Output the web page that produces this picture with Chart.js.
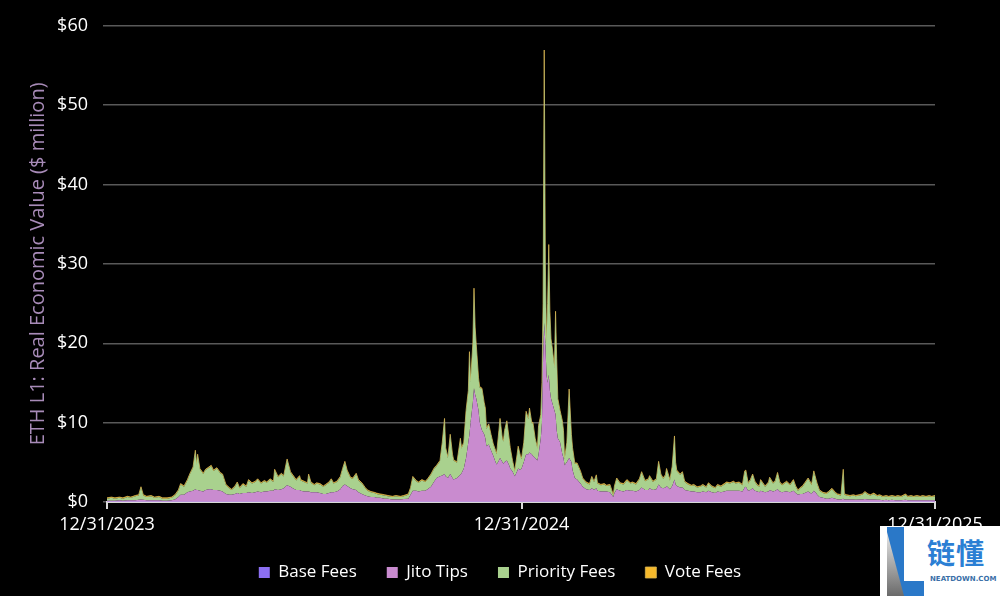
<!DOCTYPE html>
<html>
<head>
<meta charset="utf-8">
<script src="https://cdn.jsdelivr.net/npm/chart.js@4.4.1/dist/chart.umd.min.js"></script>
<style>
  body { margin: 0; background: #000; }
  #wrap { position: relative; width: 1000px; height: 596px; background: #000; }
  #mark { position: absolute; left: 880px; top: 526px; width: 120px; height: 70px; background: #fff; overflow: hidden; }
  #mark .bar { position: absolute; left: 7px; top: 1px; width: 17px; height: 69px; background: #2a78c8; }
  #mark .shade { position: absolute; left: 7px; top: 6px; width: 17px; height: 64px; background: linear-gradient(#e8e8e8, #6a6a6a); clip-path: polygon(0 0, 100% 100%, 0 100%); }
  #mark .foot { position: absolute; left: 24px; top: 55px; width: 20px; height: 15px; background: #2a78c8; }
  #mark .cn { position: absolute; left: 47px; top: 6px; font: bold 28px "Noto Sans CJK SC", sans-serif; color: #2b7fd4; letter-spacing: 1px; }
  #mark .en { position: absolute; left: 50px; top: 49px; font: bold 7px "DejaVu Sans", sans-serif; color: #3a6fa8; letter-spacing: 0px; }
</style>
</head>
<body>
<div id="wrap">
  <canvas id="feeChart" width="1000" height="596"></canvas>
  <div id="mark">
    <div class="bar"></div>
    <div class="shade"></div>
    <div class="foot"></div>
    <div class="cn">链懂</div>
    <div class="en">NEATDOWN.COM</div>
  </div>
</div>
<script>
// day offset from 12/31/2023
const days = [
  0,4,7,11,14,18,21,25,28,30,32,35,39,42,46,49,53,57,60,63,
  65,68,71,73,76,78,79,80,82,85,87,90,92,94,97,100,102,105,108,110,
  113,115,117,120,123,125,128,131,133,136,139,141,144,147,148,151,154,156,159,162,
  164,167,170,171,174,177,178,180,183,185,188,191,193,196,198,200,203,206,208,210,
  212,215,217,220,222,225,228,230,233,236,238,241,245,248,252,255,259,262,266,268,
  270,273,275,278,281,283,286,289,291,294,296,298,299,301,303,305,306,309,312,313,
  315,317,319,320,321,323,324,325,326,328,329,331,333,334,335,337,339,341,343,344,
  346,347,349,350,351,353,355,356,358,360,362,363,365,366,368,370,372,373,375,376,
  378,380,381,383,384,385,386,387,388,389,390,391,392,393,395,396,397,398,400,402,
  403,404,406,408,410,411,413,415,418,420,423,426,428,430,432,433,436,439,441,444,
  447,448,450,453,456,459,462,464,467,470,472,475,478,479,482,485,487,489,491,493,
  494,497,499,501,502,503,506,508,510,513,516,518,521,524,526,529,531,534,537,539,
  542,545,547,550,553,555,558,561,563,564,566,568,570,572,574,576,577,579,581,584,
  585,588,590,592,594,596,599,600,603,606,608,610,612,614,616,619,621,622,623,624,
  626,627,629,632,635,637,640,643,645,648,650,651,653,656,659,661,664,667,669,672,
  674,677,680,682,685,688,690,693,696,698,701,705,707,710,712,715,718,720,723,726,
  728,731
];

// $ million per day
const baseFees = [
  .02,.02,.02,.02,.02,.02,.02,.02,.02,.02,.02,.02,.02,.02,.02,.02,.02,.02,.02,.02,
  .02,.02,.02,.02,.02,.02,.02,.02,.02,.02,.02,.02,.02,.02,.02,.02,.02,.02,.02,.02,
  .02,.02,.02,.02,.02,.02,.02,.02,.02,.02,.02,.02,.02,.02,.02,.02,.02,.02,.02,.02,
  .02,.02,.02,.02,.02,.02,.02,.02,.02,.02,.02,.02,.02,.02,.02,.02,.02,.02,.02,.02,
  .02,.02,.02,.02,.02,.02,.02,.02,.02,.02,.02,.02,.02,.02,.02,.02,.02,.02,.02,.02,
  .02,.02,.02,.02,.02,.02,.02,.03,.03,.03,.03,.03,.03,.03,.03,.03,.03,.03,.03,.03,
  .03,.03,.04,.04,.04,.04,.04,.04,.04,.04,.04,.04,.04,.04,.03,.03,.03,.03,.03,.03,
  .03,.03,.03,.03,.03,.03,.03,.03,.03,.03,.03,.03,.03,.03,.03,.03,.03,.03,.03,.03,
  .03,.03,.03,.03,.03,.04,.05,.04,.04,.04,.04,.04,.04,.04,.03,.03,.03,.03,.03,.03,
  .03,.03,.03,.03,.03,.03,.02,.02,.02,.02,.02,.02,.02,.02,.02,.02,.02,.02,.02,.02,
  .02,.02,.02,.02,.02,.02,.02,.02,.02,.02,.02,.02,.02,.02,.02,.02,.02,.02,.02,.02,
  .02,.02,.02,.02,.02,.02,.02,.02,.02,.02,.02,.02,.02,.02,.02,.02,.02,.02,.02,.02,
  .02,.02,.02,.02,.02,.02,.02,.02,.02,.02,.02,.02,.02,.02,.02,.02,.02,.02,.02,.02,
  .02,.02,.02,.02,.02,.02,.02,.02,.02,.02,.02,.02,.02,.02,.02,.02,.02,.02,.02,.02,
  .02,.02,.02,.02,.02,.02,.02,.02,.02,.02,.02,.02,.02,.02,.02,.02,.02,.02,.02,.02,
  .02,.02,.02,.02,.02,.02,.02,.02,.02,.02,.02,.02,.02,.02,.02,.02,.02,.02,.02,.02,
  .02,.02
];

const jitoTips = [
  .15,.15,.15,.2,.15,.2,.2,.2,.25,.3,.25,.2,.2,.2,.2,.15,.15,.2,.3,.6,
  .9,.9,1.2,1.3,1.4,1.6,1.5,1.5,1.4,1.3,1.5,1.6,1.6,1.5,1.5,1.4,1.3,1.0,.9,.9,
  1.0,1.1,1.0,1.1,1.1,1.2,1.1,1.2,1.3,1.2,1.3,1.3,1.4,1.4,1.6,1.5,1.6,1.7,2.1,1.9,
  1.7,1.5,1.5,1.4,1.3,1.3,1.3,1.2,1.2,1.2,1.1,1.0,1.0,1.1,1.2,1.2,1.3,1.6,2.0,2.2,
  2.0,1.7,1.6,1.5,1.2,1.0,.8,.7,.6,.6,.5,.5,.4,.4,.3,.3,.3,.35,.4,.9,
  1.4,1.4,1.3,1.4,1.4,1.6,1.9,2.6,3.0,3.2,3.3,3.5,3.2,3.0,3.5,3.0,2.8,3.0,3.4,3.6,
  4.2,5.5,7.5,8.5,10.0,12.5,14.3,13.5,13.0,11.5,10.0,9.0,8.5,8.0,7.0,7.2,6.5,5.8,5.0,4.7,
  5.2,5.5,5.0,4.8,5.0,5.2,4.6,4.2,3.8,3.2,3.8,4.2,4.0,4.2,5.0,6.0,6.0,6.2,6.0,5.8,
  5.5,5.2,6.0,8.0,10.0,18.0,22.5,20.0,16.0,15.0,16.0,14.0,13.0,12.5,11.5,11.0,9.0,8.0,7.5,6.0,
  5.5,4.6,5.0,5.5,5.0,4.0,3.0,2.8,2.3,1.9,1.6,1.5,1.7,1.5,1.7,1.4,1.3,1.3,1.3,1.2,
  .6,1.1,1.6,1.4,1.3,1.5,1.4,1.4,1.3,1.5,1.8,1.5,1.5,1.7,1.5,1.6,2.2,1.8,1.7,1.8,
  2.0,1.6,2.0,2.8,2.2,2.0,1.8,1.8,1.5,1.4,1.3,1.3,1.2,1.2,1.3,1.2,1.4,1.2,1.1,1.3,
  1.2,1.3,1.4,1.4,1.4,1.4,1.4,1.3,1.8,1.9,1.4,1.5,1.7,1.4,1.3,1.2,1.4,1.3,1.2,1.3,
  1.5,1.3,1.4,1.6,1.3,1.2,1.3,1.3,1.2,1.4,1.1,.9,1.0,1.0,1.1,1.3,1.1,1.0,1.2,1.4,
  1.1,.9,.6,.5,.4,.4,.5,.4,.3,.3,.4,.3,.3,.3,.3,.25,.3,.3,.35,.3,
  .3,.3,.25,.25,.2,.25,.2,.25,.2,.2,.2,.25,.2,.2,.2,.2,.2,.2,.2,.2,
  .2,.2
];

const priorityFees = [
  .25,.35,.25,.3,.25,.4,.3,.5,.55,1.5,.55,.4,.5,.3,.4,.25,.25,.3,.5,.8,
  1.3,1.0,1.5,2.1,2.9,4.8,3.2,4.4,2.7,2.2,2.5,2.7,2.9,2.4,2.7,2.2,2.1,1.1,.8,.6,
  .9,1.3,.7,1.1,.8,1.5,1.2,1.3,1.5,1.1,1.3,1.1,1.4,1.1,2.4,1.6,1.9,1.5,3.2,1.8,
  1.6,1.2,1.7,1.3,1.2,1.0,2.1,1.2,.9,1.1,1.1,.9,1.1,1.3,1.6,1.1,1.2,1.5,2.1,2.8,
  1.9,1.3,1.3,2.0,1.5,1.3,.9,.7,.6,.5,.5,.4,.4,.3,.3,.4,.3,.35,.5,.8,
  1.7,1.2,1.1,1.3,1.1,1.2,1.5,1.6,1.5,1.9,4.1,6.9,3.5,2.5,4.9,2.9,2.4,1.9,4.5,3.1,
  3.2,5.9,6.4,10.3,5.1,7.4,12.5,8.4,6.7,4.0,4.4,5.2,3.9,3.7,2.2,2.5,1.9,1.4,1.4,1.3,
  3.7,4.9,2.9,2.8,3.9,4.9,3.3,2.5,1.3,.6,2.0,2.7,1.7,1.2,2.4,5.3,4.4,5.5,3.9,4.1,
  2.4,1.5,3.5,2.9,4.9,6.9,34.3,9.9,3.9,9.9,16.3,9.9,7.4,6.9,5.4,12.9,8.9,4.9,3.9,4.1,
  3.4,.8,2.4,8.6,3.4,2.7,1.8,2.0,1.5,1.0,.8,.7,1.4,1.0,1.6,.9,.8,.9,.7,.9,
  .2,.8,1.3,.9,.9,1.2,.9,1.0,.9,1.3,1.9,1.1,1.3,1.5,1.0,1.2,2.8,1.6,1.2,1.5,
  2.1,1.1,2.4,5.4,2.7,1.9,1.6,1.9,1.0,.8,.7,.8,.6,.7,.8,.6,.9,.7,.6,.8,
  .7,.9,1.0,.9,1.1,.9,1.0,.8,2.0,2.0,.9,1.2,1.7,1.1,.8,.7,1.3,1.0,.7,1.1,
  1.5,1.0,1.2,2.0,1.1,.9,1.1,1.2,.9,1.3,.8,.5,.7,.9,1.2,1.6,1.3,1.1,1.7,2.4,
  1.6,1.3,.8,.6,.6,.8,1.1,.7,.6,.5,3.6,.6,.5,.4,.5,.45,.5,.6,.85,.6,
  .5,.7,.45,.55,.4,.45,.4,.45,.4,.5,.4,.65,.4,.5,.4,.5,.4,.5,.4,.5,
  .4,.5
];

const voteFees = [
  .1,.1,.1,.1,.1,.1,.1,.1,.1,.1,.1,.1,.1,.1,.1,.1,.1,.1,.1,.1,
  .1,.1,.1,.1,.1,.1,.1,.1,.1,.1,.1,.1,.1,.1,.1,.1,.1,.1,.1,.1,
  .1,.1,.1,.1,.1,.1,.1,.1,.1,.1,.1,.1,.1,.1,.1,.1,.1,.1,.1,.1,
  .1,.1,.1,.1,.1,.1,.1,.1,.1,.1,.1,.1,.1,.1,.1,.1,.1,.1,.1,.1,
  .1,.1,.1,.1,.1,.1,.1,.1,.1,.1,.1,.1,.1,.1,.1,.1,.1,.1,.1,.1,
  .1,.1,.1,.1,.1,.1,.1,.1,.1,.1,.1,.1,.1,.1,.1,.1,.1,.1,.1,.1,
  .1,.1,.1,.1,.1,.1,.1,.1,.1,.1,.1,.1,.1,.1,.1,.1,.1,.1,.1,.1,
  .1,.1,.1,.1,.1,.1,.1,.1,.1,.1,.1,.1,.1,.1,.1,.1,.1,.1,.1,.1,
  .1,.1,.1,.1,.1,.1,.1,.1,.1,.1,.1,.1,.1,.1,.1,.1,.1,.1,.1,.1,
  .1,.1,.1,.1,.1,.1,.1,.1,.1,.1,.1,.1,.1,.1,.1,.1,.1,.1,.1,.1,
  .1,.1,.1,.1,.1,.1,.1,.1,.1,.1,.1,.1,.1,.1,.1,.1,.1,.1,.1,.1,
  .1,.1,.1,.1,.1,.1,.1,.1,.1,.1,.1,.1,.1,.1,.1,.1,.1,.1,.1,.1,
  .1,.1,.1,.1,.1,.1,.1,.1,.1,.1,.1,.1,.1,.1,.1,.1,.1,.1,.1,.1,
  .1,.1,.1,.1,.1,.1,.1,.1,.1,.1,.1,.1,.1,.1,.1,.1,.1,.1,.1,.1,
  .1,.1,.1,.1,.1,.1,.1,.1,.1,.1,.1,.1,.1,.1,.1,.1,.1,.1,.1,.1,
  .1,.1,.1,.1,.1,.1,.1,.1,.1,.1,.1,.1,.1,.1,.1,.1,.1,.1,.1,.1,
  .1,.1
];

const tickDays = [0, 366, 731];
const tickLabels = ['12/31/2023', '12/31/2024', '12/31/2025'];
const yTitle = 'ETH L1: Real Economic Value ($ million)';

Chart.defaults.font.family = "'Open Sans', 'Noto Sans', sans-serif";

const toPoints = arr => arr.map((v, i) => ({ x: days[i], y: v }));

function createFeeChart() {
    const ctx = document.getElementById('feeChart').getContext('2d');
    new Chart(ctx, {
        type: 'line',
        data: {
            datasets: [{
                label: 'Base Fees',
                data: toPoints(baseFees),
                backgroundColor: '#8c6ff2',
                borderColor: '#8c6ff2',
                borderWidth: 0,
                fill: 'origin',
            }, {
                label: 'Jito Tips',
                data: toPoints(jitoTips),
                backgroundColor: '#c98bcf',
                borderColor: '#c98bcf',
                borderWidth: 0,
                fill: '-1',
            }, {
                label: 'Priority Fees',
                data: toPoints(priorityFees),
                backgroundColor: '#a9d18e',
                borderColor: '#a9d18e',
                borderWidth: 0,
                fill: '-1',
            }, {
                label: 'Vote Fees',
                data: toPoints(voteFees),
                backgroundColor: '#f6b92b',
                borderColor: '#d8b450',
                borderWidth: 0.8,
                fill: '-1',
            }],
        },
        options: {
            responsive: false,
            animation: false,
            layout: { padding: { top: 21, left: 0, right: 0, bottom: 5 } },
            elements: { point: { radius: 0 }, line: { tension: 0 } },
            plugins: {
                tooltip: { enabled: false },
                legend: {
                    position: 'bottom',
                    labels: { color: '#ffffff', font: { size: 17 }, boxWidth: 11, boxHeight: 11, padding: 30 },
                },
            },
            scales: {
                x: {
                    type: 'linear',
                    min: 0,
                    max: 731,
                    afterBuildTicks: s => { s.ticks = tickDays.map(v => ({ value: v })); },
                    afterFit: s => { s.height = 32; },
                    ticks: {
                        color: '#ffffff',
                        font: { size: 18 },
                        padding: 5,
                        maxRotation: 0,
                        autoSkip: false,
                        callback: v => tickLabels[tickDays.indexOf(v)],
                    },
                    grid: { drawOnChartArea: false, drawTicks: true, tickLength: 7, color: '#d9d9d9', lineWidth: 2 },
                    border: { display: true, color: '#d9d9d9', width: 2 },
                },
                y: {
                    stacked: true,
                    min: 0,
                    max: 60,
                    afterFit: s => { s.width = 107; },
                    ticks: { stepSize: 10, color: '#ffffff', font: { size: 18 }, padding: 15, callback: v => '$' + v },
                    grid: { color: '#595959', lineWidth: 1.5, tickLength: 4 },
                    border: { display: false },
                    title: { display: true, text: yTitle, color: '#a88bb8', font: { size: 20 }, padding: { top: 26, bottom: 0 } },
                },
                spacer: {
                    position: 'right',
                    afterFit: s => { s.width = 65; },
                    ticks: { display: false },
                    grid: { display: false, drawTicks: false },
                    border: { display: false },
                },
            },
        },
    });
}

createFeeChart();
</script>
</body>
</html>
